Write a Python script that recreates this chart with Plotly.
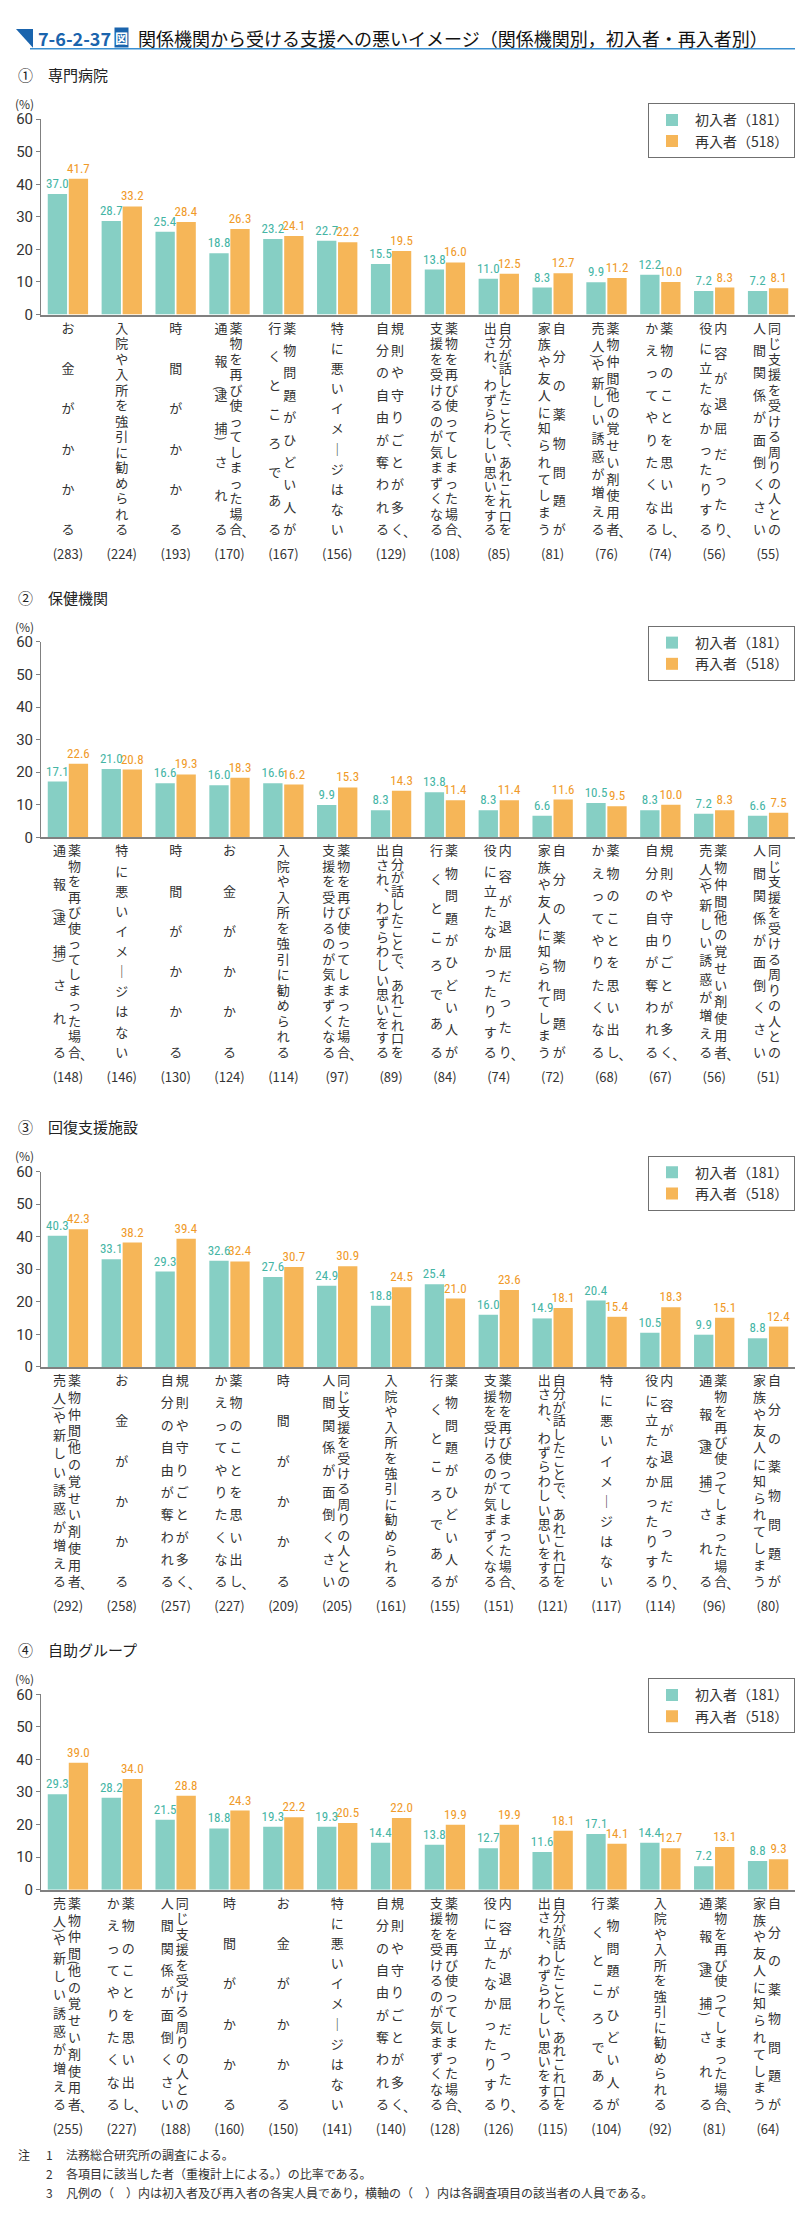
import plotly.graph_objects as go

W, H = 803, 2216

# ---------------- data ----------------
# category label texts ("|" separates the vertical columns, right column first)
A = "お金がかかる"
B = "入院や入所を強引に勧められる"
C = "時間がかかる"
D = "薬物を再び使ってしまった場合、|通報（逮捕）される"
E = "薬物問題がひどい人が|行くところである"
F = "特に悪いイメージはない"
G = "規則や守りごとが多く、|自分の自由が奪われる"
Hc = "薬物を再び使ってしまった場合、|支援を受けるのが気まずくなる"
I = "自分が話したことで、あれこれ口を|出され、わずらわしい思いをする"
J = "自分の薬物問題が|家族や友人に知られてしまう"
K = "薬物仲間（他の覚せい剤使用者、|売人）や新しい誘惑が増える"
L = "薬物のことを思い出し、|かえってやりたくなる"
M = "内容が退屈だったり、|役に立たなかったりする"
N = "同じ支援を受ける周りの人との|人間関係が面倒くさい"

panel_titles = ["①　専門病院", "②　保健機関", "③　回復支援施設", "④　自助グループ"]
legend_names = ["初入者（181）", "再入者（518）"]

cats1 = [A, B, C, D, E, F, G, Hc, I, J, K, L, M, N]
first1 = [37.0, 28.7, 25.4, 18.8, 23.2, 22.7, 15.5, 13.8, 11.0, 8.3, 9.9, 12.2, 7.2, 7.2]
re1 = [41.7, 33.2, 28.4, 26.3, 24.1, 22.2, 19.5, 16.0, 12.5, 12.7, 11.2, 10.0, 8.3, 8.1]
n1 = [283, 224, 193, 170, 167, 156, 129, 108, 85, 81, 76, 74, 56, 55]

cats2 = [D, F, C, A, B, Hc, I, E, M, J, L, G, K, N]
first2 = [17.1, 21.0, 16.6, 16.0, 16.6, 9.9, 8.3, 13.8, 8.3, 6.6, 10.5, 8.3, 7.2, 6.6]
re2 = [22.6, 20.8, 19.3, 18.3, 16.2, 15.3, 14.3, 11.4, 11.4, 11.6, 9.5, 10.0, 8.3, 7.5]
n2 = [148, 146, 130, 124, 114, 97, 89, 84, 74, 72, 68, 67, 56, 51]

cats3 = [K, A, G, L, C, N, B, E, Hc, I, F, M, D, J]
first3 = [40.3, 33.1, 29.3, 32.6, 27.6, 24.9, 18.8, 25.4, 16.0, 14.9, 20.4, 10.5, 9.9, 8.8]
re3 = [42.3, 38.2, 39.4, 32.4, 30.7, 30.9, 24.5, 21.0, 23.6, 18.1, 15.4, 18.3, 15.1, 12.4]
n3 = [292, 258, 257, 227, 209, 205, 161, 155, 151, 121, 117, 114, 96, 80]

cats4 = [K, L, N, C, A, F, G, Hc, M, I, E, B, D, J]
first4 = [29.3, 28.2, 21.5, 18.8, 19.3, 19.3, 14.4, 13.8, 12.7, 11.6, 17.1, 14.4, 7.2, 8.8]
re4 = [39.0, 34.0, 28.8, 24.3, 22.2, 20.5, 22.0, 19.9, 19.9, 18.1, 14.1, 12.7, 13.1, 9.3]
n4 = [255, 227, 188, 160, 150, 141, 140, 128, 126, 115, 104, 92, 81, 64]

yticks = [0, 10, 20, 30, 40, 50, 60]

panels = [(cats1, first1, re1, n1), (cats2, first2, re2, n2),
          (cats3, first3, re3, n3), (cats4, first4, re4, n4)]

notes = [("注", "1", "法務総合研究所の調査による。"),
         ("", "2", "各項目に該当した者（重複計上による。）の比率である。"),
         ("", "3", "凡例の（　）内は初入者及び再入者の各実人員であり，横軸の（　）内は各調査項目の該当者の人員である。")]

# ---------------- layout helpers ----------------
def px(x):
    return x / W

def py(y):
    return 1 - y / H

JP = "Noto Sans CJK JP"
NUMF = "Liberation Sans Narrow, Roboto Condensed, Roboto, Noto Sans CJK JP"
TEAL, ORANGE = "#86cfc4", "#f6b658"
TEAL_T, ORANGE_T = "#45b5a5", "#f09a28"

X0, X1 = 33, 787
ZERO = [300, 827, 1361, 1888]
PLOT_H = 197
LAB_TOP, LAB_BOT, CNT_Y = 15, 218, 243
FS = 13
unit = (X1 - X0) / 14.0

VMAP = {"、": "︑", "ー": "｜"}


def column_chars(s):
    """returns list of (char, y, rotated)"""
    hang = s.endswith("、")
    if hang:
        s = s[:-1]
    slots, opens, closes = [], [], []
    pend = False
    for ch in s:
        if ch == "（":
            pend = True
            continue
        if ch == "）":
            closes.append(len(slots) - 1)
            continue
        slots.append(VMAP.get(ch, ch))
        if pend:
            opens.append(len(slots) - 1)
            pend = False
    n = len(slots)
    ys = [LAB_TOP + i * (LAB_BOT - LAB_TOP) / (n - 1) for i in range(n)] if n > 1 else [LAB_TOP]
    out = [(c, y, False) for c, y in zip(slots, ys)]
    for i in opens:
        out.append(("(", ys[i] - 8.5, True))
    for i in closes:
        out.append((")", ys[i] + 8.5, True))
    if hang:
        out.append(("︑", ys[-1] + 11, False))
    return out


fig = go.Figure()
layout = dict(width=W, height=H, margin=dict(l=0, r=0, t=0, b=0),
              paper_bgcolor="white", plot_bgcolor="white",
              barmode="group", bargap=0.22, bargroupgap=0.08,
              font=dict(family=JP, color="#333"), showlegend=True)
annotations = []
shapes = []

for k, (cats, v1, v2, cnt) in enumerate(panels):
    Z = ZERO[k]
    xid = "" if k == 0 else str(k + 1)
    yb = "" if k == 0 else str(2 * k + 1)
    yl = str(2 * k + 2)
    leg = "legend" if k == 0 else "legend%d" % (k + 1)
    xs = list(range(len(cats)))
    for name, vals, col, tcol in [(legend_names[0], v1, TEAL, TEAL_T),
                                  (legend_names[1], v2, ORANGE, ORANGE_T)]:
        fig.add_trace(go.Bar(
            x=xs, y=vals, name=name, xaxis="x" + xid, yaxis="y" + yb,
            marker=dict(color=col, line=dict(width=0)),
            texttemplate="%{y:.1f}", textposition="outside", constraintext="none",
            textfont=dict(color=tcol, size=13, family=NUMF), cliponaxis=False,
            legend=leg, hoverinfo="skip"))
    # vertical category labels + counts
    tx, ty, tt = [], [], []
    for i, c in enumerate(cats):
        cols = c.split("|")
        offs = [0.0] if len(cols) == 1 else [6.5, -8.5]
        for colstr, off in zip(cols, offs):
            for ch, yy, rot in column_chars(colstr):
                dx = off + (4 if ch == "︑" and yy > LAB_BOT else 0)
                if rot:
                    annotations.append(dict(text=ch, x=i + dx / unit, y=yy, xref="x" + xid,
                                            yref="y" + yl, showarrow=False, textangle=90,
                                            xanchor="center", yanchor="middle",
                                            font=dict(size=12, family=JP, color="#333")))
                else:
                    tx.append(i + dx / unit)
                    ty.append(yy)
                    tt.append(ch)
        tx.append(i)
        ty.append(CNT_Y)
        tt.append("(%d)" % cnt[i])
    fig.add_trace(go.Scatter(x=tx, y=ty, text=tt, mode="text", xaxis="x" + xid, yaxis="y" + yl,
                             textfont=dict(size=FS, family=JP, color="#333"),
                             showlegend=False, hoverinfo="skip", cliponaxis=False))

    layout["xaxis" + xid] = dict(domain=[px(X0), px(X1)], range=[-0.5, len(cats) - 0.5],
                                 anchor="y" + yb, showline=True, linecolor="#808080", linewidth=1.5,
                                 ticks="", showticklabels=False, showgrid=False, zeroline=False)
    layout["yaxis" + yb] = dict(domain=[py(Z), py(Z - PLOT_H)], range=[0, 60], anchor="x" + xid,
                                tickvals=yticks, ticks="outside", ticklen=4, tickcolor="#808080",
                                showline=True, linecolor="#808080", linewidth=1,
                                tickfont=dict(size=15, color="#333", family="Roboto"),
                                showgrid=False, zeroline=False)
    layout["yaxis" + yl] = dict(domain=[py(Z + 258), py(Z + 2)], range=[258, 2], anchor="x" + xid,
                                visible=False)
    layout[leg] = dict(x=px(X1), xanchor="right", y=py(Z - PLOT_H - 16), yanchor="top",
                       bgcolor="white", bordercolor="#707070", borderwidth=1,
                       font=dict(size=14, family=JP, color="#333"), tracegroupgap=0,
                       itemwidth=36)
    annotations.append(dict(text=panel_titles[k], x=px(8), y=py(Z - 242), xref="paper", yref="paper",
                            xanchor="left", yanchor="middle", showarrow=False,
                            font=dict(size=15, family=JP, color="#222")))
    annotations.append(dict(text="(%)", x=px(5), y=py(Z - 213), xref="paper", yref="paper",
                            xanchor="left", yanchor="middle", showarrow=False,
                            font=dict(size=12, family=JP, color="#333")))

# title
shapes.append(dict(type="path", path="M %f,%f L %f,%f L %f,%f Z" % (px(8), py(12), px(25), py(12), px(25), py(31)),
                   xref="paper", yref="paper", fillcolor="#1a64ad", line=dict(width=0)))
shapes.append(dict(type="line", x0=px(22), x1=px(800), y0=py(32), y1=py(32), xref="paper", yref="paper",
                   line=dict(color="#3a8fd0", width=1.5)))
annotations.append(dict(text="<b>7-6-2-37</b>", x=px(28), y=py(21), xref="paper", yref="paper",
                        xanchor="left", yanchor="middle", showarrow=False,
                        font=dict(size=18, family=JP, color="#1a64ad")))
annotations.append(dict(text="<b>図</b>", x=px(106), y=py(21), xref="paper", yref="paper",
                        xanchor="left", yanchor="middle", showarrow=False, bgcolor="#1a64ad", borderpad=0,
                        font=dict(size=13, family=JP, color="white")))
annotations.append(dict(text="関係機関から受ける支援への悪いイメージ（関係機関別，初入者・再入者別）",
                        x=px(128), y=py(21), xref="paper", yref="paper", xanchor="left", yanchor="middle",
                        showarrow=False, font=dict(size=18, family=JP, color="#111")))

# notes
for j, (a, b, c) in enumerate(notes):
    yy = py(2155 + 19 * j)
    if a:
        annotations.append(dict(text=a, x=px(8), y=yy, xref="paper", yref="paper", xanchor="left",
                                yanchor="middle", showarrow=False, font=dict(size=12, family=JP, color="#333")))
    annotations.append(dict(text=b, x=px(36), y=yy, xref="paper", yref="paper", xanchor="left",
                            yanchor="middle", showarrow=False, font=dict(size=12, family=JP, color="#333")))
    annotations.append(dict(text=c, x=px(56), y=yy, xref="paper", yref="paper", xanchor="left",
                            yanchor="middle", showarrow=False, font=dict(size=12, family=JP, color="#333")))

layout["annotations"] = annotations
layout["shapes"] = shapes
fig.update_layout(**layout)
fig.write_html("out.html")
